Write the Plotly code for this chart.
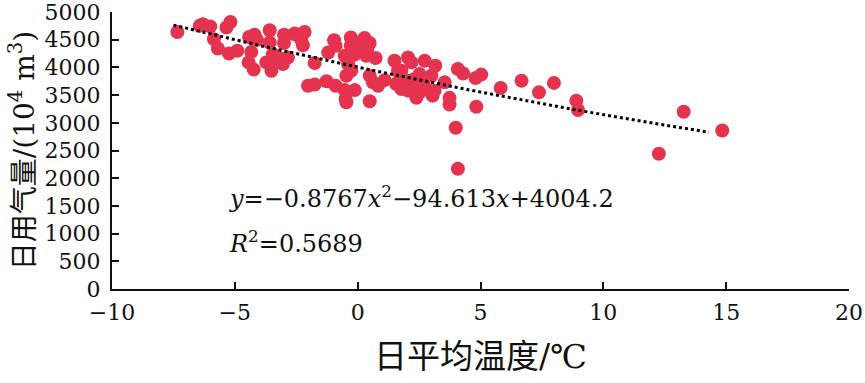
import numpy as np
import plotly.graph_objects as go

# Daily mean temperature (°C) and daily gas use (10^4 m^3)
temp = [-7.34, -6.43, -6.3, -6.0, -5.85, -5.69, -5.34, -5.18, -5.24, -4.9,
        -4.33, -4.42, -4.2, -4.1, -4.44, -4.23, -3.58, -3.58, -3.0, -3.0,
        -2.59, -3.45, -3.72, -3.51, -3.24, -3.04, -2.84, -3.3, -2.56, -2.16,
        -2.23, -2.3, -1.75, -2.02, -1.75, -1.27, -1.2, -0.96, -0.9, -0.9,
        -0.53, -0.49, -0.46, -0.28, -0.28, -0.05, 0.28, 0.49, 0.15, -0.53,
        -0.12, 0.35, 0.73, 0.1, 0.4, -0.39, -0.26, -0.46, 0.49, 0.62,
        0.83, 1.1, -0.12, 0.49, 1.5, 1.64, 1.57, 2.05, 2.19, 2.73,
        3.16, 1.78, 3.0, 2.52, 1.64, 1.91, 2.12, 2.32, 1.78, 2.05,
        2.25, 2.46, 2.66, 2.8, 2.52, 3.13, 2.39, 3.05, 3.54, 4.08,
        4.29, 3.74, 3.74, 4.8, 5.03, 4.83, 5.82, 6.67, 7.38, 7.99,
        8.9, 8.97, 13.27, 12.26, 14.84, 3.99, 4.08]
gas = [4640, 4750, 4780, 4740, 4510, 4340, 4720, 4820, 4250, 4300,
       4280, 4550, 4590, 4500, 4090, 3960, 4670, 4450, 4590, 4440,
       4600, 4240, 4090, 3940, 4180, 4060, 4180, 4120, 4610, 4640,
       4400, 4500, 4080, 3670, 3690, 3750, 4270, 4490, 4390, 3670,
       3590, 3430, 3370, 4540, 4390, 4450, 4530, 4440, 4360, 4210,
       4230, 4210, 4170, 4300, 4350, 4060, 3940, 3850, 3850, 3730,
       3670, 3770, 3590, 3390, 4120, 3940, 3700, 4180, 4090, 4120,
       4030, 3940, 3850, 3880, 3730, 3700, 3760, 3790, 3610, 3580,
       3640, 3670, 3730, 3610, 3550, 3580, 3450, 3490, 3730, 3970,
       3890, 3450, 3330, 3810, 3870, 3290, 3630, 3760, 3550, 3720,
       3400, 3230, 3200, 2440, 2860, 2910, 2170]

# Trend curve as drawn (quadratic coefficients, highest power first) and its x span
trend_coeffs = [0.8767, -94.613, 4004.2]
trend_range = [-7.5, 14.3]

x_ticks = [-10, -5, 0, 5, 10, 15, 20]
y_ticks = [0, 500, 1000, 1500, 2000, 2500, 3000, 3500, 4000, 4500, 5000]

eq_text = "<i>y</i>=−0.8767<i>x</i><sup>2</sup>−94.613<i>x</i>+4004.2"
r2_text = "<i>R</i><sup>2</sup>=0.5689"

FONT = "DejaVu Serif, Noto Sans CJK SC"
RED = "#E5334F"
INK = "#111111"

tx = np.linspace(trend_range[0], trend_range[1], 200)
ty = np.polyval(trend_coeffs, tx)

fig = go.Figure()
fig.add_trace(go.Scatter(x=temp, y=gas, mode="markers",
                         marker=dict(color=RED, size=14, line=dict(width=0)),
                         showlegend=False))
fig.add_trace(go.Scatter(x=tx, y=ty, mode="lines",
                         line=dict(color="black", width=3, dash="dot"),
                         showlegend=False))

fig.add_annotation(x=-5.3, y=1660, xref="x", yref="y", text=eq_text,
                   showarrow=False, xanchor="left", yanchor="middle",
                   font=dict(family=FONT, size=24, color=INK))
fig.add_annotation(x=-5.3, y=850, xref="x", yref="y", text=r2_text,
                   showarrow=False, xanchor="left", yanchor="middle",
                   font=dict(family=FONT, size=24, color=INK))

fig.update_layout(
    width=865, height=383,
    margin=dict(l=112, r=16, t=12, b=94),
    plot_bgcolor="white", paper_bgcolor="white",
    font=dict(family=FONT, size=22, color=INK),
    xaxis=dict(range=[-10, 20], tickvals=x_ticks, ticks="inside", ticklen=7,
               tickwidth=2, tickcolor=INK, showline=True, linecolor=INK,
               linewidth=2, showgrid=False, zeroline=False, automargin=False,
               ticklabeloverflow="allow", ticklabelstandoff=3,
               tickfont=dict(family=FONT, size=22),
               title=dict(text="日平均温度/℃", standoff=20,
                          font=dict(family=FONT, size=33))),
    yaxis=dict(range=[0, 5000], tickvals=y_ticks, ticks="inside", ticklen=7,
               tickwidth=2, tickcolor=INK, showline=True, linecolor=INK,
               linewidth=2, showgrid=False, zeroline=False, automargin=False,
               ticklabeloverflow="allow", ticklabelstandoff=5,
               tickfont=dict(family=FONT, size=22),
               title=dict(text="日用气量/(10<sup>4</sup> m<sup>3</sup>)", standoff=2,
                          font=dict(family=FONT, size=28))),
)

fig.write_html("out.html", config={"displayModeBar": False},
               post_script="document.body.style.margin='0';")
